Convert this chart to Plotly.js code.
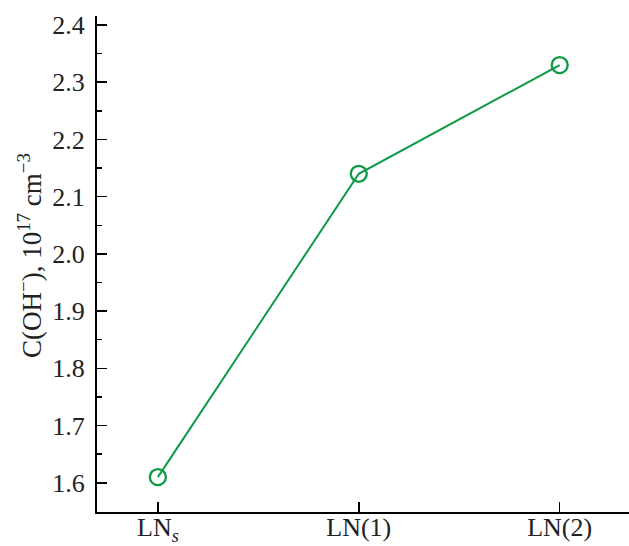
<!DOCTYPE html>
<html>
<head>
<meta charset="utf-8">
<script src="https://cdn.plot.ly/plotly-3.0.1.min.js"></script>
<style>html,body{margin:0;padding:0;background:#fff;}#chart{width:629px;height:546px;}</style>
</head>
<body>
<div id="chart"></div>
<script>
const categories = ["LN<sub><i>s</i></sub>", "LN(1)", "LN(2)"];
const concentration = [1.61, 2.14, 2.33];
const yTickVals = [1.6, 1.7, 1.8, 1.9, 2.0, 2.1, 2.2, 2.3, 2.4];
const yTickText = ["1.6", "1.7", "1.8", "1.9", "2.0", "2.1", "2.2", "2.3", "2.4"];
const yTitle = "C(OH<sup>−</sup>), 10<sup>17</sup> cm<sup>−3</sup>";

const green = "#0c9a47";
const serif = "Liberation Serif";
const trace = {
  x: categories,
  y: concentration,
  type: "scatter",
  mode: "lines+markers",
  line: {color: green, width: 2},
  marker: {symbol: "circle-open", size: 16, color: green, line: {width: 2.3, color: green}},
  cliponaxis: false,
  hoverinfo: "skip"
};

const layout = {
  width: 629, height: 546,
  margin: {l: 97, r: 0, t: 16, b: 34},
  paper_bgcolor: "#fff", plot_bgcolor: "#fff",
  showlegend: false,
  font: {family: serif, size: 26, color: "#222"},
  xaxis: {
    type: "category",
    categoryorder: "array", categoryarray: categories,
    range: [-0.303, 2.345],
    showline: true, linecolor: "#000", linewidth: 2,
    ticks: "inside", ticklen: 10, tickwidth: 1.5, tickcolor: "#000",
    showgrid: false, zeroline: false,
    tickfont: {family: serif, size: 26, color: "#222"},
    ticklabelstandoff: -9
  },
  yaxis: {
    range: [1.549, 2.4157],
    tickvals: yTickVals, ticktext: yTickText,
    showline: true, linecolor: "#000", linewidth: 2,
    ticks: "inside", ticklen: 10, tickwidth: 1.5, tickcolor: "#000",
    minor: {dtick: 0.05, tick0: 1.55, ticks: "inside", ticklen: 5, tickwidth: 1.5, tickcolor: "#000", showgrid: false},
    showgrid: false, zeroline: false,
    tickfont: {family: serif, size: 26, color: "#222"},
    ticklabelstandoff: 5
  },
  annotations: [{
    text: yTitle, textangle: -90,
    xref: "paper", yref: "paper",
    x: 0, y: 0.5, xanchor: "center", yanchor: "middle",
    xshift: -67, yshift: 8,
    showarrow: false,
    font: {family: serif, size: 27, color: "#222"}
  }]
};

Plotly.newPlot("chart", [trace], layout, {staticPlot: true, displayModeBar: false});
</script>
</body>
</html>
